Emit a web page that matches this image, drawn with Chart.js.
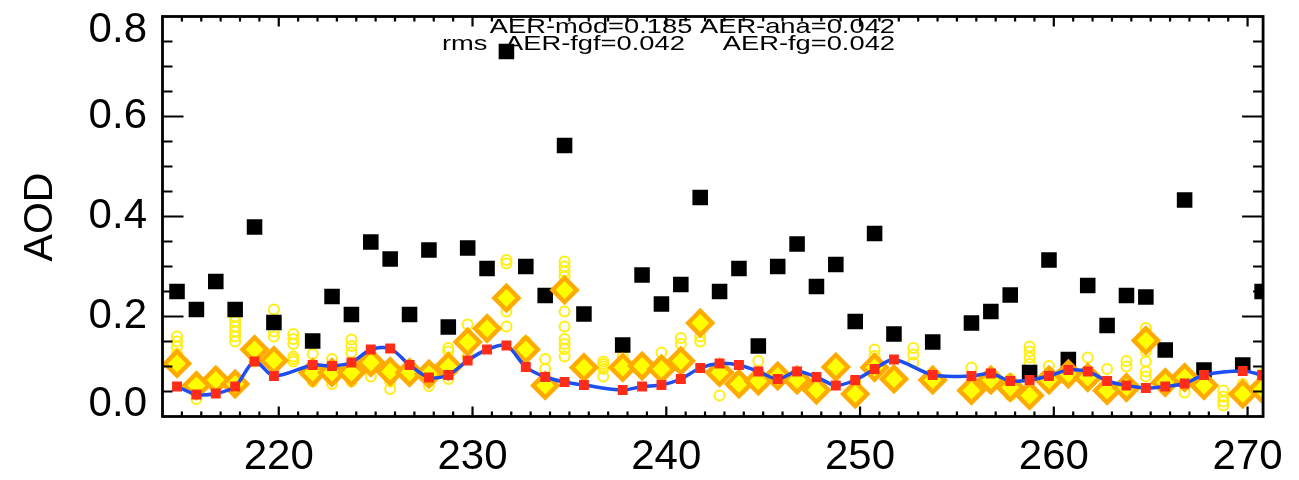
<!DOCTYPE html>
<html>
<head>
<meta charset="utf-8">
<script src="https://cdn.jsdelivr.net/npm/chart.js@4.4.1/dist/chart.umd.min.js"></script>
<style>
  html, body { margin: 0; padding: 0; background: #fff; }
  #wrap { width: 1299px; height: 480px; }
</style>
</head>
<body>
<div id="wrap"><canvas id="chartAod" width="1299" height="480"></canvas></div>
<script>
// day of year (points sit at 18 UTC)
const days = [
  214.75, 215.75, 216.75, 217.75, 218.75, 219.75, 220.75, 221.75, 222.75, 223.75,
  224.75, 225.75, 226.75, 227.75, 228.75, 229.75, 230.75, 231.75, 232.75, 233.75,
  234.75, 235.75, 236.75, 237.75, 238.75, 239.75, 240.75, 241.75, 242.75, 243.75,
  244.75, 245.75, 246.75, 247.75, 248.75, 249.75, 250.75, 251.75, 252.75, 253.75,
  254.75, 255.75, 256.75, 257.75, 258.75, 259.75, 260.75, 261.75, 262.75, 263.75,
  264.75, 265.75, 266.75, 267.75, 268.75, 269.75, 270.75
];

// AER-mod (black squares)
const modValues = [
  0.25, 0.214, 0.27, 0.214, 0.379, 0.188, null, 0.151, 0.24, 0.204,
  0.349, 0.315, 0.204, 0.333, 0.179, 0.337, 0.296, 0.73, 0.30, 0.242,
  0.542, 0.205, null, 0.143, 0.283, 0.225, 0.264, 0.438, 0.25, 0.296,
  0.141, 0.30, 0.345, 0.26, 0.304, 0.19, 0.366, 0.165, null, 0.149,
  null, 0.187, 0.21, 0.243, 0.088, 0.313, 0.114, 0.262, 0.182, 0.242,
  0.239, 0.133, 0.433, 0.093, null, 0.103, 0.25
];

// AER-ana (red squares on blue line)
const anaValues = [
  0.060, 0.044, 0.046, 0.060, 0.110, 0.081, null, 0.103, 0.101, 0.108,
  0.134, 0.136, 0.103, 0.078, 0.083, 0.112, 0.134, 0.142, 0.099, 0.079,
  0.069, 0.063, null, 0.053, 0.060, 0.063, 0.075, 0.097, 0.106, 0.103,
  0.090, 0.075, 0.090, 0.079, 0.062, 0.073, 0.095, 0.114, null, 0.083,
  null, 0.081, 0.086, 0.071, 0.073, 0.081, 0.093, 0.090, 0.071, 0.062,
  0.057, 0.060, 0.066, 0.083, null, 0.091, 0.083
];

// AER-fg (orange diamonds)
const fgValues = [
  0.106, 0.062, 0.073, 0.065, 0.134, 0.112, null, 0.088, 0.088, 0.088,
  0.108, 0.090, 0.088, 0.085, 0.100, 0.149, 0.176, 0.237, 0.134, 0.062,
  0.253, 0.098, null, 0.098, 0.101, 0.095, 0.111, 0.187, 0.088, 0.065,
  0.071, 0.081, 0.073, 0.053, 0.099, 0.045, 0.098, 0.075, null, 0.073,
  null, 0.052, 0.073, 0.058, 0.042, 0.073, 0.085, 0.078, 0.052, 0.058,
  0.152, 0.068, 0.078, 0.062, null, 0.045, 0.055
];

// single observations per day (small yellow circles)
const obsValues = [
  [0.16, 0.15, 0.14, 0.125, 0.11, 0.095], [0.045, 0.035], [0.08, 0.07],
  [0.2, 0.19, 0.18, 0.17, 0.16, 0.15, 0.07], [0.14, 0.12, 0.11], [0.214, 0.17, 0.16, 0.125],
  [0.165, 0.155, 0.145, 0.12, 0.115, 0.11], [0.125, 0.08, 0.07], [0.115, 0.075, 0.065],
  [0.154, 0.141, 0.128, 0.07], [0.115, 0.08], [0.07, 0.055], [0.09, 0.08], [0.07, 0.061],
  [0.137, 0.13, 0.075], [0.184, 0.16, 0.12], [0.19, 0.18], [0.313, 0.306, 0.21, 0.18],
  [0.15, 0.135], [0.115, 0.095], [0.31, 0.30, 0.29, 0.28, 0.21, 0.18, 0.155, 0.145, 0.135, 0.12],
  [0.085], [0.11, 0.105, 0.1, 0.095, 0.08], [0.12, 0.085], [0.11, 0.09], [0.128, 0.11],
  [0.157, 0.145], [0.197, 0.16, 0.15], [0.09, 0.042], [0.08], [0.111, 0.09], [0.07],
  [0.085], [0.065], [0.085], [0.07], [0.134, 0.121, 0.111], [0.085], [0.137, 0.124, 0.108],
  [0.07], [], [0.098, 0.045], [0.085, 0.07], [0.075, 0.042], [0.14, 0.13, 0.118, 0.105],
  [0.101, 0.085], [0.111, 0.09], [0.118, 0.09], [0.095], [0.111, 0.1],
  [0.177, 0.16, 0.145, 0.13, 0.11, 0.09, 0.08], [0.06], [0.048], [0.08],
  [0.052, 0.04, 0.03, 0.022], [0.065], [0.085]
];

const yTickLabels = [0, 0.2, 0.4, 0.6, 0.8];
const rmsText = ['AER-mod=0.185 AER-ana=0.042', 'AER-fgf=0.042', 'AER-fg=0.042'];

const FONT = '"Liberation Sans", Arial, Helvetica, sans-serif';

function pts(values) {
  return days.map((d, i) => ({ x: d, y: values[i] })).filter(p => p.y !== null);
}

const obsPoints = [];
days.forEach((d, i) => obsValues[i].forEach(v => obsPoints.push({ x: d, y: v })));

function stretchText(ctx, text, x, y, align) {
  ctx.save();
  ctx.translate(x, y);
  ctx.scale(1.3, 1);
  ctx.textAlign = align;
  ctx.fillText(text, 0, 0);
  ctx.restore();
}

// box, inward ticks, y labels and texts, idl style
const frameAxes = {
  id: 'frameAxes',
  afterDraw(chart) {
    const { ctx, chartArea: a, scales: { x, y } } = chart;
    ctx.save();
    ctx.strokeStyle = '#000';
    ctx.lineWidth = 2.2;
    ctx.beginPath();
    for (let d = 215; d <= 270; d++) {
      const px = x.getPixelForValue(d);
      const len = d % 10 === 0 ? 10 : 5;
      ctx.moveTo(px, a.bottom); ctx.lineTo(px, a.bottom - len);
      ctx.moveTo(px, a.top); ctx.lineTo(px, a.top + len);
    }
    for (let k = 1; k < 16; k++) {
      const py = y.getPixelForValue(k * 0.05);
      const len = k % 4 === 0 ? 21 : 10;
      ctx.moveTo(a.left, py); ctx.lineTo(a.left + len, py);
      ctx.moveTo(a.right, py); ctx.lineTo(a.right - len, py);
    }
    ctx.stroke();

    ctx.lineWidth = 2.8;
    ctx.strokeRect(a.left, a.top, a.right - a.left, a.bottom - a.top);

    ctx.fillStyle = '#000';
    ctx.font = '42px ' + FONT;
    ctx.textAlign = 'right';
    ctx.textBaseline = 'middle';
    yTickLabels.forEach(v => {
      const py = Math.min(Math.max(y.getPixelForValue(v), a.top + 14), a.bottom - 12);
      ctx.fillText(v.toFixed(1), 147, py);
    });

    ctx.save();
    ctx.translate(41, 217);
    ctx.rotate(-Math.PI / 2);
    ctx.textAlign = 'center';
    ctx.font = '41px ' + FONT;
    ctx.fillText('AOD', 0, 0);
    ctx.restore();

    ctx.font = '21px ' + FONT;
    ctx.textBaseline = 'alphabetic';
    stretchText(ctx, rmsText[0], 895, 33, 'right');
    stretchText(ctx, 'rms', 442, 50, 'left');
    stretchText(ctx, rmsText[1], 505, 50, 'left');
    stretchText(ctx, rmsText[2], 895, 50, 'right');
    ctx.restore();
  }
};

new Chart(document.getElementById('chartAod'), {
  type: 'scatter',
  data: {
    datasets: [
      {
        label: 'AER-ana',
        data: pts(anaValues),
        showLine: true,
        borderColor: '#1d4ef2',
        borderWidth: 3.5,
        tension: 0.3,
        pointStyle: 'rect',
        pointRadius: 7,
        pointBackgroundColor: '#ff2c18',
        pointBorderWidth: 0,
        clip: 0
      },
      {
        label: 'AER-fg',
        data: pts(fgValues),
        pointStyle: 'rectRot',
        pointRadius: 12,
        backgroundColor: '#ffff00',
        borderColor: '#ffaa00',
        borderWidth: 4.5,
        clip: 0
      },
      {
        label: 'AER-mod',
        data: pts(modValues),
        pointStyle: 'rect',
        pointRadius: 11,
        backgroundColor: '#000',
        borderWidth: 0,
        clip: 0
      },
      {
        label: 'obs',
        data: obsPoints,
        pointStyle: 'circle',
        pointRadius: 5,
        backgroundColor: 'rgba(255,255,255,0)',
        borderColor: '#ffee11',
        borderWidth: 2,
        clip: 0
      }
    ]
  },
  options: {
    responsive: false,
    animation: false,
    events: [],
    layout: { padding: { left: 0, right: 27, top: 13, bottom: 0 } },
    plugins: { legend: { display: false }, tooltip: { enabled: false } },
    scales: {
      x: {
        type: 'linear',
        min: 214,
        max: 270.8,
        grid: { display: false, drawTicks: false },
        border: { display: false },
        ticks: {
          stepSize: 10,
          includeBounds: false,
          autoSkip: false,
          maxRotation: 0,
          padding: 16,
          color: '#000',
          font: { family: FONT, size: 42 }
        },
        afterFit(s) { s.height = 63.5; }
      },
      y: {
        min: 0,
        max: 0.8,
        grid: { display: false, drawTicks: false },
        border: { display: false },
        ticks: { display: false },
        afterFit(s) { s.width = 162.5; }
      }
    }
  },
  plugins: [frameAxes]
});
</script>
</body>
</html>
